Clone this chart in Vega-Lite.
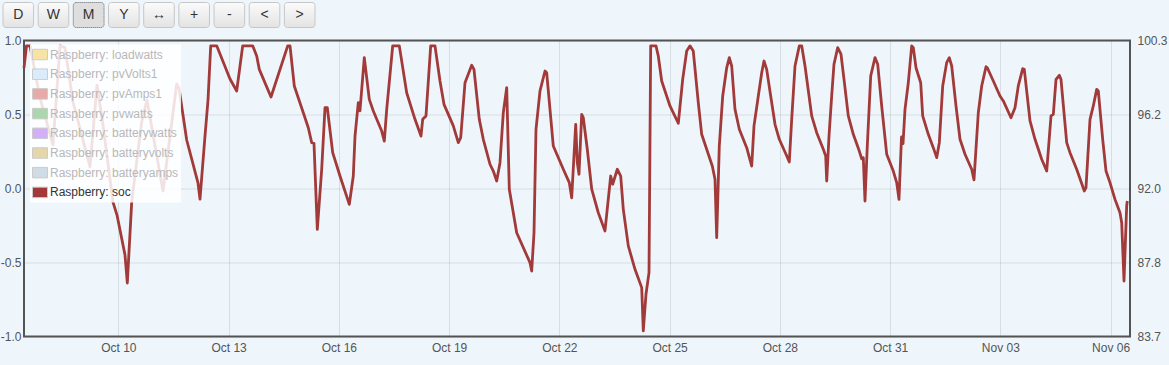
{
  "$schema": "https://vega.github.io/schema/vega-lite/v6.json",
  "width": 1106,
  "height": 296,
  "autosize": {"type": "none"},
  "padding": {"left": 24, "top": 40.5, "right": 39, "bottom": 28.5},
  "background": "#eef6fc",
  "config": {
    "view": {"stroke": "#545454", "strokeWidth": 2, "fill": "#eef6fc"},
    "axis": {"labelFont": "Liberation Sans", "labelFontSize": 12, "labelColor": "#545454", "ticks": false, "domain": false, "labelFlush": false, "labelOverlap": false, "gridColor": "#545454", "gridOpacity": 0.15}
  },
  "data": {"values": [
    {"t":"2023-10-07T10:25Z","soc":98.76},{"t":"2023-10-07T12:03Z","soc":100},{"t":"2023-10-07T14:20Z","soc":100},{"t":"2023-10-07T20:52Z","soc":97.08},
    {"t":"2023-10-08T05:21Z","soc":94.44},{"t":"2023-10-08T09:56Z","soc":100},{"t":"2023-10-08T13:11Z","soc":99.9},{"t":"2023-10-08T18:25Z","soc":96.85},
    {"t":"2023-10-09T05:31Z","soc":93.21},{"t":"2023-10-09T10:05Z","soc":97.8},{"t":"2023-10-09T14:00Z","soc":95.56},{"t":"2023-10-09T20:32Z","soc":91.24},
    {"t":"2023-10-09T23:09Z","soc":90.51},{"t":"2023-10-10T04:23Z","soc":88.27},{"t":"2023-10-10T05:53Z","soc":86.7},{"t":"2023-10-10T08:45Z","soc":91.24},
    {"t":"2023-10-10T10:55Z","soc":92.76},{"t":"2023-10-10T15:17Z","soc":95.73},{"t":"2023-10-10T18:44Z","soc":96.96},{"t":"2023-10-11T05:11Z","soc":91.86},
    {"t":"2023-10-11T14:08Z","soc":97.86},{"t":"2023-10-11T15:38Z","soc":97.64},{"t":"2023-10-11T20:40Z","soc":94.72},{"t":"2023-10-12T04:03Z","soc":92.31},
    {"t":"2023-10-12T05:21Z","soc":91.41},{"t":"2023-10-12T08:37Z","soc":94.94},{"t":"2023-10-12T10:35Z","soc":96.96},{"t":"2023-10-12T12:21Z","soc":100},
    {"t":"2023-10-12T16:16Z","soc":100},{"t":"2023-10-13T00:57Z","soc":98.14},{"t":"2023-10-13T05:19Z","soc":97.47},{"t":"2023-10-13T07:29Z","soc":98.87},
    {"t":"2023-10-13T09:14Z","soc":100},{"t":"2023-10-13T15:46Z","soc":100},{"t":"2023-10-13T18:23Z","soc":99.43},{"t":"2023-10-13T20:05Z","soc":98.68},
    {"t":"2023-10-14T03:43Z","soc":97.13},{"t":"2023-10-14T14:38Z","soc":100},{"t":"2023-10-14T16:08Z","soc":100},{"t":"2023-10-14T18:56Z","soc":97.75},
    {"t":"2023-10-15T00:49Z","soc":96.25},{"t":"2023-10-15T04:05Z","soc":95.41},{"t":"2023-10-15T06:18Z","soc":94.57},{"t":"2023-10-15T07:48Z","soc":94.53},
    {"t":"2023-10-15T09:58Z","soc":89.71},{"t":"2023-10-15T12:50Z","soc":93.08},{"t":"2023-10-15T14:59Z","soc":96.53},{"t":"2023-10-15T16:29Z","soc":96.53},
    {"t":"2023-10-15T20:01Z","soc":94.01},{"t":"2023-10-16T00:47Z","soc":92.7},{"t":"2023-10-16T06:52Z","soc":91.11},{"t":"2023-10-16T09:28Z","soc":92.7},
    {"t":"2023-10-16T10:35Z","soc":94.94},{"t":"2023-10-16T12:44Z","soc":96.81},{"t":"2023-10-16T13:50Z","soc":96.35},{"t":"2023-10-16T16:39Z","soc":99.34},
    {"t":"2023-10-16T19:55Z","soc":97.0},{"t":"2023-10-16T22:32Z","soc":96.35},{"t":"2023-10-17T04:01Z","soc":95.22},{"t":"2023-10-17T05:43Z","soc":94.66},
    {"t":"2023-10-17T07:17Z","soc":96.44},{"t":"2023-10-17T11:12Z","soc":100},{"t":"2023-10-17T15:31Z","soc":100},{"t":"2023-10-17T20:20Z","soc":97.37},
    {"t":"2023-10-18T01:46Z","soc":95.88},{"t":"2023-10-18T05:41Z","soc":94.94},{"t":"2023-10-18T06:47Z","soc":95.88},{"t":"2023-10-18T08:57Z","soc":96.07},
    {"t":"2023-10-18T12:01Z","soc":100},{"t":"2023-10-18T14:49Z","soc":100},{"t":"2023-10-18T18:05Z","soc":98.03},{"t":"2023-10-18T20:42Z","soc":96.72},
    {"t":"2023-10-19T02:47Z","soc":95.51},{"t":"2023-10-19T06:02Z","soc":94.57},{"t":"2023-10-19T07:37Z","soc":94.85},{"t":"2023-10-19T10:25Z","soc":97.93},
    {"t":"2023-10-19T14:47Z","soc":98.91},{"t":"2023-10-19T16:17Z","soc":98.68},{"t":"2023-10-19T19:45Z","soc":95.88},{"t":"2023-10-19T22:22Z","soc":94.76},
    {"t":"2023-10-20T02:44Z","soc":93.36},{"t":"2023-10-20T04:54Z","soc":92.98},{"t":"2023-10-20T07:07Z","soc":92.42},{"t":"2023-10-20T09:16Z","soc":93.45},
    {"t":"2023-10-20T11:26Z","soc":96.25},{"t":"2023-10-20T13:39Z","soc":97.65},{"t":"2023-10-20T15:21Z","soc":91.96},{"t":"2023-10-20T20:11Z","soc":89.52},
    {"t":"2023-10-21T04:52Z","soc":87.84},{"t":"2023-10-21T05:58Z","soc":87.37},{"t":"2023-10-21T07:29Z","soc":89.52},{"t":"2023-10-21T08:47Z","soc":95.32},
    {"t":"2023-10-21T11:24Z","soc":97.47},{"t":"2023-10-21T14:40Z","soc":98.59},{"t":"2023-10-21T15:46Z","soc":98.49},{"t":"2023-10-21T20:05Z","soc":94.38},
    {"t":"2023-10-22T02:37Z","soc":93.08},{"t":"2023-10-22T06:32Z","soc":92.33},{"t":"2023-10-22T08:06Z","soc":91.48},{"t":"2023-10-22T10:43Z","soc":95.6},
    {"t":"2023-10-22T11:45Z","soc":93.45},{"t":"2023-10-22T12:52Z","soc":92.8},{"t":"2023-10-22T14:38Z","soc":96.16},{"t":"2023-10-22T15:40Z","soc":95.97},
    {"t":"2023-10-22T18:17Z","soc":94.2},{"t":"2023-10-22T21:10Z","soc":91.96},{"t":"2023-10-23T01:28Z","soc":90.64},{"t":"2023-10-23T05:50Z","soc":89.62},
    {"t":"2023-10-23T09:34Z","soc":92.7},{"t":"2023-10-23T10:52Z","soc":92.24},{"t":"2023-10-23T13:53Z","soc":93.08},{"t":"2023-10-23T16:06Z","soc":92.7},
    {"t":"2023-10-23T17:48Z","soc":90.83},{"t":"2023-10-23T21:04Z","soc":88.78},{"t":"2023-10-24T01:26Z","soc":87.47},{"t":"2023-10-24T05:49Z","soc":86.44},
    {"t":"2023-10-24T06:51Z","soc":84.01},{"t":"2023-10-24T08:37Z","soc":86.07},{"t":"2023-10-24T10:35Z","soc":87.28},{"t":"2023-10-24T11:41Z","soc":100},
    {"t":"2023-10-24T15:09Z","soc":100},{"t":"2023-10-24T16:39Z","soc":99.43},{"t":"2023-10-24T18:52Z","soc":98.03},{"t":"2023-10-25T00:17Z","soc":96.63},
    {"t":"2023-10-25T05:43Z","soc":95.66},{"t":"2023-10-25T08:35Z","soc":98.12},{"t":"2023-10-25T11:12Z","soc":99.71},{"t":"2023-10-25T13:21Z","soc":100},
    {"t":"2023-10-25T15:30Z","soc":99.71},{"t":"2023-10-25T18:46Z","soc":96.81},{"t":"2023-10-25T20:59Z","soc":95.04},{"t":"2023-10-26T00:15Z","soc":94.2},
    {"t":"2023-10-26T03:55Z","soc":93.26},{"t":"2023-10-26T05:41Z","soc":92.52},{"t":"2023-10-26T06:47Z","soc":89.24},{"t":"2023-10-26T08:29Z","soc":94.38},
    {"t":"2023-10-26T10:43Z","soc":97.19},{"t":"2023-10-26T13:19Z","soc":98.77},{"t":"2023-10-26T15:01Z","soc":99.34},{"t":"2023-10-26T16:35Z","soc":98.87},
    {"t":"2023-10-26T18:44Z","soc":96.44},{"t":"2023-10-26T21:33Z","soc":95.32},{"t":"2023-10-27T02:23Z","soc":94.29},{"t":"2023-10-27T05:39Z","soc":93.26},
    {"t":"2023-10-27T07:09Z","soc":95.51},{"t":"2023-10-27T09:58Z","soc":97.19},{"t":"2023-10-27T12:11Z","soc":98.49},{"t":"2023-10-27T13:41Z","soc":99.15},
    {"t":"2023-10-27T15:26Z","soc":98.68},{"t":"2023-10-27T18:03Z","soc":97.19},{"t":"2023-10-27T20:52Z","soc":95.6},{"t":"2023-10-27T23:40Z","soc":94.76},
    {"t":"2023-10-28T04:03Z","soc":93.92},{"t":"2023-10-28T06:12Z","soc":93.49},{"t":"2023-10-28T07:46Z","soc":95.88},{"t":"2023-10-28T09:56Z","soc":98.87},
    {"t":"2023-10-28T12:44Z","soc":100},{"t":"2023-10-28T14:18Z","soc":100},{"t":"2023-10-28T16:28Z","soc":98.87},{"t":"2023-10-28T20:50Z","soc":96.07},
    {"t":"2023-10-29T00:06Z","soc":95.13},{"t":"2023-10-29T04:25Z","soc":94.2},{"t":"2023-10-29T05:58Z","soc":93.82},{"t":"2023-10-29T06:38Z","soc":92.42},
    {"t":"2023-10-29T08:08Z","soc":94.94},{"t":"2023-10-29T09:53Z","soc":97.19},{"t":"2023-10-29T11:23Z","soc":98.97},{"t":"2023-10-29T13:49Z","soc":99.9},
    {"t":"2023-10-29T15:58Z","soc":99.53},{"t":"2023-10-29T17:56Z","soc":98.12},{"t":"2023-10-29T20:44Z","soc":96.07},{"t":"2023-10-30T00:00Z","soc":95.04},
    {"t":"2023-10-30T03:55Z","soc":94.1},{"t":"2023-10-30T05:29Z","soc":93.67},{"t":"2023-10-30T06:32Z","soc":93.72},{"t":"2023-10-30T07:38Z","soc":91.3},
    {"t":"2023-10-30T09:08Z","soc":94.38},{"t":"2023-10-30T11:22Z","soc":98.31},{"t":"2023-10-30T14:10Z","soc":99.34},{"t":"2023-10-30T15:56Z","soc":98.97},
    {"t":"2023-10-30T18:32Z","soc":96.63},{"t":"2023-10-30T21:49Z","soc":93.92},{"t":"2023-10-31T02:07Z","soc":92.98},{"t":"2023-10-31T04:20Z","soc":92.33},
    {"t":"2023-10-31T05:50Z","soc":91.39},{"t":"2023-10-31T07:29Z","soc":94.89},{"t":"2023-10-31T08:28Z","soc":94.52},{"t":"2023-10-31T09:46Z","soc":96.44},
    {"t":"2023-10-31T11:55Z","soc":97.93},{"t":"2023-10-31T14:08Z","soc":100},{"t":"2023-10-31T15:11Z","soc":99.9},{"t":"2023-10-31T16:57Z","soc":98.77},
    {"t":"2023-10-31T20:01Z","soc":97.93},{"t":"2023-10-31T21:19Z","soc":96.07},{"t":"2023-11-01T00:59Z","soc":95.04},{"t":"2023-11-01T04:14Z","soc":94.29},
    {"t":"2023-11-01T06:28Z","soc":93.73},{"t":"2023-11-01T08:10Z","soc":94.57},{"t":"2023-11-01T10:23Z","soc":97.75},{"t":"2023-11-01T12:59Z","soc":99.06},
    {"t":"2023-11-01T14:41Z","soc":99.34},{"t":"2023-11-01T16:16Z","soc":98.87},{"t":"2023-11-01T19:04Z","soc":96.63},{"t":"2023-11-01T21:41Z","soc":94.76},
    {"t":"2023-11-02T00:57Z","soc":93.92},{"t":"2023-11-02T05:19Z","soc":93.08},{"t":"2023-11-02T06:49Z","soc":92.48},{"t":"2023-11-02T09:38Z","soc":96.25},
    {"t":"2023-11-02T11:51Z","soc":97.75},{"t":"2023-11-02T14:40Z","soc":98.83},{"t":"2023-11-02T15:31Z","soc":98.77},{"t":"2023-11-02T19:26Z","soc":98.03},
    {"t":"2023-11-02T23:48Z","soc":97.19},{"t":"2023-11-03T01:58Z","soc":96.91},{"t":"2023-11-03T06:59Z","soc":95.97},{"t":"2023-11-03T09:36Z","soc":96.53},
    {"t":"2023-11-03T11:45Z","soc":97.75},{"t":"2023-11-03T14:38Z","soc":98.72},{"t":"2023-11-03T15:40Z","soc":98.68},{"t":"2023-11-03T19:24Z","soc":95.79},
    {"t":"2023-11-03T22:40Z","soc":94.76},{"t":"2023-11-04T03:02Z","soc":93.64},{"t":"2023-11-04T06:18Z","soc":92.98},{"t":"2023-11-04T09:07Z","soc":96.07},
    {"t":"2023-11-04T10:37Z","soc":96.16},{"t":"2023-11-04T12:23Z","soc":98.12},{"t":"2023-11-04T14:32Z","soc":98.35},{"t":"2023-11-04T15:38Z","soc":98.12},
    {"t":"2023-11-04T19:22Z","soc":94.57},{"t":"2023-11-04T21:31Z","soc":94.01},{"t":"2023-11-05T01:53Z","soc":93.08},{"t":"2023-11-05T06:52Z","soc":91.86},
    {"t":"2023-11-05T07:58Z","soc":92.05},{"t":"2023-11-05T10:35Z","soc":95.88},{"t":"2023-11-05T12:44Z","soc":96.63},{"t":"2023-11-05T14:57Z","soc":97.56},
    {"t":"2023-11-05T16:00Z","soc":97.47},{"t":"2023-11-05T18:52Z","soc":94.76},{"t":"2023-11-05T21:02Z","soc":92.98},{"t":"2023-11-05T23:38Z","soc":92.33},
    {"t":"2023-11-06T02:54Z","soc":91.39},{"t":"2023-11-06T06:10Z","soc":90.64},{"t":"2023-11-06T07:17Z","soc":90.08},{"t":"2023-11-06T08:47Z","soc":86.81},
    {"t":"2023-11-06T10:32Z","soc":91.02},{"t":"2023-11-06T10:56Z","soc":91.3}
  ]},
  "resolve": {"scale": {"x": "independent", "y": "independent"}},
  "layer": [
    {
      "mark": {"type": "rule", "opacity": 0},
      "encoding": {
        "y": {"datum": 0, "type": "quantitative",
          "scale": {"domain": [-1, 1], "nice": false, "zero": false},
          "axis": {"orient": "left", "title": null, "values": [-1, -0.5, 0, 0.5, 1], "format": ".1f", "labelExpr": "replace(datum.label, '\u2212', '-')", "labelPadding": 3, "grid": true}}
      }
    },
    {
      "mark": {"type": "line", "strokeWidth": 2.8, "strokeJoin": "round", "color": "#a23a3a"},
      "encoding": {
        "x": {"field": "t", "type": "temporal",
          "scale": {"type": "utc", "domain": [
            {"year": 2023, "month": 10, "date": 7, "hours": 10, "minutes": 25, "utc": true},
            {"year": 2023, "month": 11, "date": 6, "hours": 12, "minutes": 42, "utc": true}]},
          "axis": {"orient": "bottom", "title": null, "format": "%b %d", "grid": true, "labelPadding": 6,
            "values": [
              {"year": 2023, "month": 10, "date": 10, "utc": true},
              {"year": 2023, "month": 10, "date": 13, "utc": true},
              {"year": 2023, "month": 10, "date": 16, "utc": true},
              {"year": 2023, "month": 10, "date": 19, "utc": true},
              {"year": 2023, "month": 10, "date": 22, "utc": true},
              {"year": 2023, "month": 10, "date": 25, "utc": true},
              {"year": 2023, "month": 10, "date": 28, "utc": true},
              {"year": 2023, "month": 10, "date": 31, "utc": true},
              {"year": 2023, "month": 11, "date": 3, "utc": true},
              {"year": 2023, "month": 11, "date": 6, "utc": true}]}},
        "y": {"field": "soc", "type": "quantitative",
          "scale": {"domain": [83.7, 100.3], "nice": false, "zero": false},
          "axis": {"orient": "right", "title": null, "values": [83.7, 87.85, 92.0, 96.15, 100.3], "format": ".1f", "labelPadding": 7, "grid": false}}
      }
    },
    {
      "mark": {"type": "square", "opacity": 0},
      "encoding": {
        "color": {"datum": "Raspberry: soc", "type": "nominal",
          "scale": {
            "domain": ["Raspberry: loadwatts", "Raspberry: pvVolts1", "Raspberry: pvAmps1", "Raspberry: pvwatts", "Raspberry: batterywatts", "Raspberry: batteryvolts", "Raspberry: batteryamps", "Raspberry: soc"],
            "range": ["#f7e3a3", "#daecfb", "#e8a9a9", "#acd6ac", "#d2b0f7", "#e5d6ab", "#cfdbe5", "#a23a3a"]},
          "legend": {
            "orient": "none", "legendX": 6, "legendY": 4, "title": null,
            "fillColor": "rgba(255,255,255,0.85)", "padding": 2,
            "symbolType": "M-1,-0.7H1V0.7H-1Z", "symbolSize": 225, "symbolOpacity": 1,
            "symbolStrokeColor": "#cccccc", "symbolStrokeWidth": 1,
            "labelFont": "Liberation Sans", "labelFontSize": 12, "labelOffset": 2, "labelLimit": 0,
            "labelColor": "#b8b8b8",
            "rowPadding": 3.7,
            "encode": {"labels": {"update": {"fill": {"signal": "datum.value === 'Raspberry: soc' ? '#333333' : '#b8b8b8'"}}}}
          }
        }
      }
    },
    {
      "data": {"values": [{"label": "D"}, {"label": "W"}, {"label": "M"}, {"label": "Y"}, {"label": "\u2194"}, {"label": "+"}, {"label": "-"}, {"label": "<"}, {"label": ">"}]},
      "encoding": {
        "x": {"field": "label", "type": "nominal", "sort": null,
          "scale": {"type": "band", "range": [-21, 291], "paddingInner": 0.13, "paddingOuter": 0}, "axis": null},
        "y": {"datum": "buttons", "type": "nominal",
          "scale": {"type": "band", "range": [-38, -13], "paddingInner": 0, "paddingOuter": 0}, "axis": null}
      },
      "layer": [
        {
          "mark": {"type": "rect", "cornerRadius": 3, "strokeWidth": 1, "stroke": "#c6c6c6",
            "fill": {"gradient": "linear", "x1": 0, "y1": 0, "x2": 0, "y2": 1,
                "stops": [{"offset": 0, "color": "#fbfbfb"}, {"offset": 1, "color": "#e3e3e3"}]}}
        },
        {
          "transform": [{"filter": "datum.label === 'M'"}],
          "mark": {"type": "rect", "cornerRadius": 3, "strokeWidth": 1, "stroke": "#777777", "strokeDash": [1, 1], "fill": "#dedede"}
        },
        {
          "mark": {"type": "text", "font": "Liberation Sans", "fontSize": 14, "color": "#333333", "baseline": "middle", "align": "center"},
          "encoding": {"text": {"field": "label"}}
        }
      ]
    }
  ]
}
